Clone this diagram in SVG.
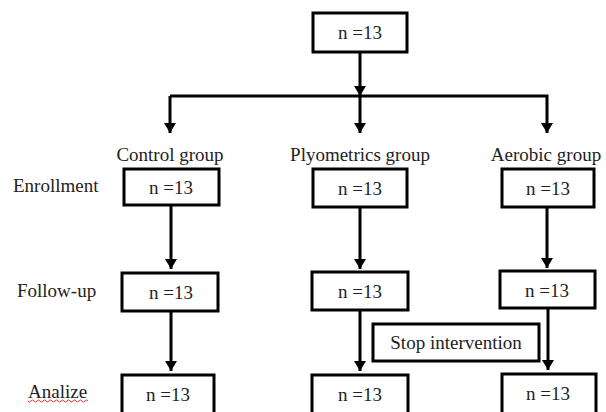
<svg xmlns="http://www.w3.org/2000/svg" width="606" height="412" viewBox="0 0 606 412">
<style>
.box{fill:#fff;stroke:#000;stroke-width:3}
.ln{fill:none;stroke:#000;stroke-width:3}
text{font-size:19px;fill:#222}
.c{text-anchor:middle}
</style>
<defs>
<marker id="ah" viewBox="0 0 10 12" refX="10" refY="6" markerWidth="10" markerHeight="12" markerUnits="userSpaceOnUse" orient="auto">
<path d="M0,0 L10,6 L0,12 z" fill="#000"/>
</marker>
</defs>
<rect width="606" height="412" fill="#fff"/>
<g id="connectors">
<line class="ln" x1="360" y1="52" x2="360" y2="96" marker-end="url(#ah)"/>
<polyline class="ln" points="170,96 547,96 547,133" marker-end="url(#ah)"/>
<line class="ln" x1="170" y1="96" x2="170" y2="133" marker-end="url(#ah)"/>
<line class="ln" x1="360" y1="96" x2="360" y2="133" marker-end="url(#ah)"/>
<line class="ln" x1="171" y1="205" x2="171" y2="269" marker-end="url(#ah)"/>
<line class="ln" x1="360" y1="207" x2="360" y2="269" marker-end="url(#ah)"/>
<line class="ln" x1="547" y1="207" x2="547" y2="268" marker-end="url(#ah)"/>
<line class="ln" x1="171" y1="311" x2="171" y2="371" marker-end="url(#ah)"/>
<line class="ln" x1="360" y1="310" x2="360" y2="371" marker-end="url(#ah)"/>
<line class="ln" x1="548" y1="308" x2="548" y2="370" marker-end="url(#ah)"/>
</g>
<g font-family="'Liberation Serif', 'DejaVu Serif', serif">
<g id="top"><rect class="box" x="313" y="13" width="94" height="39"/><text class="c" x="360" y="39">n =13</text></g>
<g id="labels">
<text class="c" x="170" y="161">Control group</text>
<text class="c" x="360" y="161">Plyometrics group</text>
<text class="c" x="546" y="161">Aerobic group</text>
<text x="13" y="192">Enrollment</text>
<text x="17" y="297">Follow-up</text>
<text x="28" y="398">Analize</text>
<path d="M28,401 q1.5,2 3,0 t3,0 t3,0 t3,0 t3,0 t3,0 t3,0 t3,0 t3,0 t3,0 t3,0 t3,0 t3,0 t3,0 t3,0 t3,0 t3,0 t3,0 t3,0 t3,0" fill="none" stroke="#d33" stroke-width="1"/>
</g>
<g id="ctrl-enroll"><rect class="box" x="124" y="169" width="95" height="36"/><text class="c" x="171" y="194">n =13</text></g>
<g id="plyo-enroll"><rect class="box" x="313" y="169" width="94" height="38"/><text class="c" x="360" y="195">n =13</text></g>
<g id="aero-enroll"><rect class="box" x="502" y="169" width="92" height="38"/><text class="c" x="548" y="195">n =13</text></g>
<g id="ctrl-follow"><rect class="box" x="122" y="273" width="96" height="38"/><text class="c" x="171" y="299">n =13</text></g>
<g id="plyo-follow"><rect class="box" x="312" y="272" width="96" height="38"/><text class="c" x="360" y="298">n =13</text></g>
<g id="aero-follow"><rect class="box" x="500" y="271" width="95" height="37"/><text class="c" x="547" y="297">n =13</text></g>
<g id="stop"><rect class="box" x="373" y="324" width="166" height="37"/><text class="c" x="456" y="349">Stop intervention</text></g>
<g id="ctrl-analize"><rect class="box" x="122" y="375" width="92" height="40"/><text class="c" x="168" y="401">n =13</text></g>
<g id="plyo-analize"><rect class="box" x="312" y="375" width="96" height="40"/><text class="c" x="360" y="401">n =13</text></g>
<g id="aero-analize"><rect class="box" x="502" y="374" width="94" height="40"/><text class="c" x="548" y="400">n =13</text></g>
</g>
</svg>
